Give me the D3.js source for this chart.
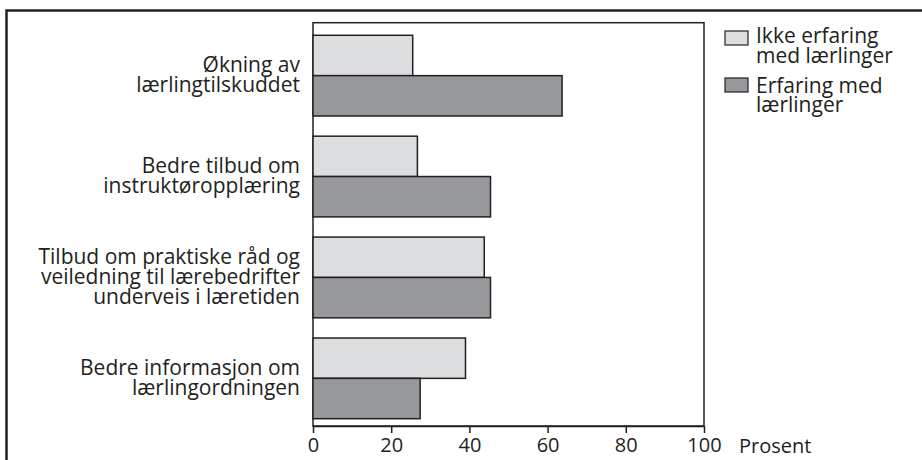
<!DOCTYPE html>
<html><head><meta charset="utf-8">
<script src="https://cdn.jsdelivr.net/npm/d3@7"></script>
<style>
html,body{margin:0;padding:0;background:#fff;}
svg text{font-family:"Open Sans",sans-serif;fill:#231f20;}
</style></head>
<body><svg id="c" width="922" height="460"></svg>
<script>
const categories = [
  ["Økning av", "lærlingtilskuddet"],
  ["Bedre tilbud om", "instruktøropplæring"],
  ["Tilbud om praktiske råd og", "veiledning til lærebedrifter", "underveis i læretiden"],
  ["Bedre informasjon om", "lærlingordningen"]
];
const seriesNames = [["Ikke erfaring", "med lærlinger"], ["Erfaring med", "lærlinger"]];
const ikkeErfaring = [25.5, 26.7, 43.8, 39.0];
const erfaring = [63.7, 45.4, 45.4, 27.4];
const ticks = [0, 20, 40, 60, 80, 100];
const axisLabel = "Prosent";

const colors = ["#dcdddf", "#97989c"];
const svg = d3.select("#c");
const FS = 21, FA = 20;

// outer frame
svg.append("rect").attr("x", 6.5).attr("y", 10.5).attr("width", 1000).attr("height", 1000)
  .attr("fill", "none").attr("stroke", "#231f20").attr("stroke-width", 2.5);

const x = d3.scaleLinear().domain([0, 100]).range([313, 704]);
const idx = categories.map((d, i) => i);
const y = d3.scaleBand().domain(idx).range([25.2, 428.8]).paddingInner(0.2).paddingOuter(0.1);
const ys = d3.scaleBand().domain([0, 1]).range([0, y.bandwidth()]);

// plot frame
svg.append("rect").attr("x", x(0)).attr("y", 22.7).attr("width", x(100) - x(0)).attr("height", 426 - 22.7)
  .attr("fill", "none").attr("stroke", "#231f20").attr("stroke-width", 1.5);

const data = [ikkeErfaring, erfaring];
data.forEach((vals, s) => {
  svg.append("g").selectAll("rect").data(vals).join("rect")
    .attr("x", x(0))
    .attr("y", (d, i) => y(i) + ys(s))
    .attr("width", d => x(d) - x(0))
    .attr("height", ys.bandwidth())
    .attr("fill", colors[s]).attr("stroke", "#231f20").attr("stroke-width", 1.5);
});

// x axis
const ax = svg.append("g").attr("transform", "translate(0,426)")
  .call(d3.axisBottom(x).tickValues(ticks).tickSize(7).tickSizeOuter(0).tickPadding(5));
ax.select(".domain").attr("stroke", "#231f20").attr("stroke-width", 1.5);
ax.selectAll(".tick line").attr("stroke", "#231f20").attr("stroke-width", 1.5);
ax.selectAll(".tick text").style("font-size", FA + "px").style("font-family", '"Open Sans",sans-serif').attr("fill", "#231f20");
svg.append("text").attr("x", 739).attr("y", 453).style("font-size", FA + "px").text(axisLabel);

// category labels
categories.forEach((lines, i) => {
  const c = y(i) + y.bandwidth() / 2;
  const t = svg.append("text").attr("text-anchor", "end").style("font-size", FS + "px");
  lines.forEach((ln, j) => {
    t.append("tspan").attr("x", 300).attr("y", c + (j - (lines.length - 1) / 2) * 20 + 6.5).text(ln);
  });
});

// legend
const lg = svg.append("g");
[[31, 43.3], [78, 92.5]].forEach(([sy, by], s) => {
  lg.append("rect").attr("x", 725).attr("y", sy).attr("width", 23).attr("height", 14)
    .attr("fill", colors[s]).attr("stroke", "#231f20").attr("stroke-width", 1.2);
  const t = lg.append("text").style("font-size", FS + "px");
  seriesNames[s].forEach((ln, j) => {
    t.append("tspan").attr("x", 756).attr("y", by + j * 19.5).text(ln);
  });
});
</script></body></html>
